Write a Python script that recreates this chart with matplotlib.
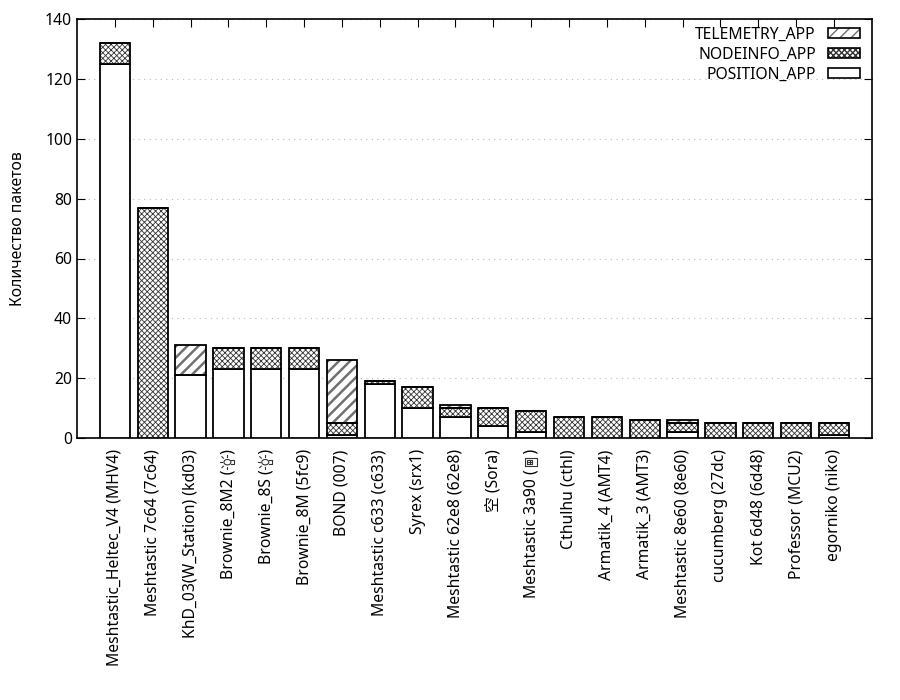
#!/usr/bin/env python3
import matplotlib

matplotlib.use("Agg")
import matplotlib.pyplot as plt
import numpy as np
from matplotlib.lines import Line2D
from matplotlib.patches import Circle, Patch

plt.rcParams["font.family"] = ["Noto Sans", "Noto Sans CJK SC", "DejaVu Sans"]

EM = "\u2003"  # placeholder for emoji no installed font has
nodes = [
    "Meshtastic_Heltec_V4 (MHV4)",
    "Meshtastic 7c64 (7c64)",
    "KhD_03(W_Station) (kd03)",
    "Brownie_8M2 (" + EM + ")",
    "Brownie_8S (" + EM + ")",
    "Brownie_8M (5fc9)",
    "BOND (007)",
    "Meshtastic c633 (c633)",
    "Syrex (srx1)",
    "Meshtastic 62e8 (62e8)",
    "空 (Sora)",
    "Meshtastic 3a90 (" + EM + ")",
    "Cthulhu (cthl)",
    "Armatik_4 (AMT4)",
    "Armatik_3 (AMT3)",
    "Meshtastic 8e60 (8e60)",
    "cucumberg (27dc)",
    "Kot 6d48 (6d48)",
    "Professor (MCU2)",
    "egorniko (niko)",
]
# which emoji stands in each placeholder: bulb 💡 or phone 📱
icons = {3: "bulb", 4: "bulb", 11: "phone"}

position_app = [125, 0, 21, 23, 23, 23, 1, 18, 10, 7, 4, 2, 0, 0, 0, 2, 0, 0, 0, 1]
nodeinfo_app = [7, 77, 0, 7, 7, 7, 4, 1, 7, 3, 6, 7, 7, 7, 6, 3, 5, 5, 5, 4]
telemetry_app = [0, 0, 10, 0, 0, 0, 21, 0, 0, 1, 0, 0, 0, 0, 0, 1, 0, 0, 0, 0]

fig = plt.figure(figsize=(9, 7), dpi=100)
ax = fig.add_axes([0.0856, 0.374, 0.883, 0.599])

x = np.arange(len(nodes))
width = 0.8
pos = np.array(position_app)
node = np.array(nodeinfo_app)
tele = np.array(telemetry_app)

CROSS = dict(edgecolor="#333333", hatch="xxxxxx")
DIAG = dict(edgecolor="#707070", hatch="///")

ax.bar(x, pos, width, color="white", edgecolor="black", linewidth=1.3, zorder=3)
with plt.rc_context({"hatch.linewidth": 0.6}):
    ax.bar(x, node, width, bottom=pos, color="white", linewidth=0, zorder=3, **CROSS)
ax.bar(x, node, width, bottom=pos, fill=False, edgecolor="black", linewidth=1.3, zorder=4)
with plt.rc_context({"hatch.linewidth": 1.8}):
    ax.bar(x, tele, width, bottom=pos + node, color="white", linewidth=0, zorder=3, **DIAG)
ax.bar(x, tele, width, bottom=pos + node, fill=False, edgecolor="black", linewidth=1.3, zorder=4)

ax.set_xlim(-1, len(nodes))
ax.set_ylim(0, 140)
ax.set_yticks(range(0, 141, 20))
ax.yaxis.grid(True, linestyle=(0, (1, 4)), color="#bbbbbb", linewidth=0.8, zorder=0)
ax.set_axisbelow(True)

ax.set_xticks(x)
ax.set_xticklabels(nodes, rotation=90, fontsize=11.3)
ax.tick_params(axis="x", direction="in", bottom=False, top=True, length=6, pad=8)
ax.tick_params(axis="y", direction="in", left=True, right=True, length=6, labelsize=11.3)
for spine in ax.spines.values():
    spine.set_linewidth(1.2)

ax.set_ylabel("Количество пакетов", fontsize=11.3, labelpad=14)

with plt.rc_context({"hatch.linewidth": 1.5}):
    tele_h = Patch(facecolor="white", edgecolor="#707070", hatch="///", linewidth=0)
with plt.rc_context({"hatch.linewidth": 0.6}):
    node_h = Patch(facecolor="white", edgecolor="#333333", hatch="xxxxxx", linewidth=0)
pos_h = Patch(facecolor="white", edgecolor="black", linewidth=1.2)
frame = Patch(fill=False, edgecolor="black", linewidth=1.2)
leg = ax.legend([(tele_h, frame), (node_h, frame), pos_h],
                ["TELEMETRY_APP", "NODEINFO_APP", "POSITION_APP"],
                loc="upper right", bbox_to_anchor=(0.991, 0.993),
                frameon=False, markerfirst=False, fontsize=11.3,
                handlelength=2.0, handleheight=0.6, labelspacing=0.25,
                borderaxespad=0, handletextpad=0.8, borderpad=0.3)

# draw the emoji that no installed font carries as small outline shapes
fig.canvas.draw()
renderer = fig.canvas.get_renderer()
inv = fig.transFigure.inverted()
for i, kind in icons.items():
    lab = ax.get_xticklabels()[i]
    bb = lab.get_window_extent(renderer)
    prefix = nodes[i].split("(")[0] + "("
    tmp = fig.text(0, 0, prefix, fontsize=11.3, rotation=90)
    plen = tmp.get_window_extent(renderer).height
    tmp.remove()
    cx = (bb.x0 + bb.x1) / 2
    cy = bb.y0 + plen + 7.5

    def P(dx, dy):
        return inv.transform((cx + dx, cy + dy))

    def seg(pts):
        xy = np.array([P(a, b) for a, b in pts])
        fig.add_artist(Line2D(xy[:, 0], xy[:, 1], transform=fig.transFigure,
                              color="#333333", linewidth=0.8))

    if kind == "bulb":
        c = P(-1, 0)
        r = inv.transform((cx + 3.5, cy))[0] - inv.transform((cx, cy))[0]
        fig.add_artist(Circle(c, r, transform=fig.transFigure, fill=False,
                              edgecolor="#333333", linewidth=0.8))
        seg([(2.5, -2), (5.5, -2), (5.5, 2), (2.5, 2)])
        seg([(-6, 0), (-8, 0)])
        seg([(-5, 4), (-6.5, 5.5)])
        seg([(-5, -4), (-6.5, -5.5)])
        seg([(-1, 5), (-1, 7)])
        seg([(-1, -5), (-1, -7)])
    else:
        seg([(-6, -4), (6, -4), (6, 4), (-6, 4), (-6, -4)])
        seg([(-4, -2), (1, -2), (1, 2), (-4, 2), (-4, -2)])
        seg([(-1.5, -2), (-1.5, 2)])
        seg([(-4, 0), (1, 0)])

fig.savefig("out.png", dpi=100)
